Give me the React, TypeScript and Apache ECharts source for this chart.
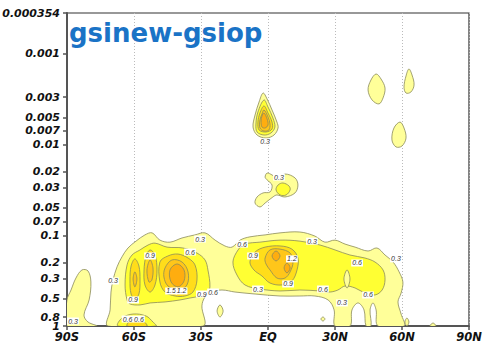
import React, { useEffect, useRef } from "react";
import * as echarts from "echarts";

// ---- axes ----
const latTickValues = [-90, -60, -30, 0, 30, 60, 90];
const latTickLabels = ["90S", "60S", "30S", "EQ", "30N", "60N", "90N"];
const pressureTicks = [0.000354, 0.001, 0.003, 0.005, 0.007, 0.01, 0.02, 0.03, 0.05, 0.07, 0.1, 0.2, 0.3, 0.5, 0.8, 1];
const pressureTickLabels = ["0.000354", "0.001", "0.003", "0.005", "0.007", "0.01", "0.02", "0.03", "0.05", "0.07", "0.1", "0.2", "0.3", "0.5", "0.8", "1"];
const pTop = 0.000354;
const pBottom = 1;

// ---- contour levels ----
const contourLevels = [0.3, 0.6, 0.9, 1.2, 1.5];
const levelColors = ["#FFFF99", "#FFFF33", "#FFDD1A", "#FFC61A", "#FFAD0F"];

// ---- contour outlines: [latitude, pressure] ----
const southLobe03: [number, number][] = [
  [-90, 0.516], [-88.2, 0.401], [-86, 0.296], [-83.3, 0.241], [-80.6, 0.247], [-79.3, 0.327],
  [-80.1, 0.516], [-82.4, 0.757], [-80.6, 0.904], [-76.6, 1.0], [-90, 1.0],
];
const band03: [number, number][] = [
  [-71.6, 1.0], [-70.7, 0.665], [-70.3, 0.422], [-69.4, 0.311], [-67.6, 0.223], [-65.4, 0.173],
  [-62.7, 0.138], [-59.1, 0.116], [-55.1, 0.099], [-51.9, 0.094], [-48.4, 0.113], [-43.9, 0.119],
  [-38.5, 0.107], [-32.7, 0.099], [-28.2, 0.094], [-23.7, 0.113], [-19.3, 0.131], [-16.1, 0.135],
  [-12.5, 0.113], [-8.1, 0.104], [-1.3, 0.099], [5.4, 0.094], [14.3, 0.092], [21, 0.102],
  [25.5, 0.119], [30, 0.113], [34.5, 0.125], [39, 0.135], [44.8, 0.149], [48.8, 0.138],
  [52.4, 0.165], [56, 0.197], [58.7, 0.253], [60.4, 0.327], [59.6, 0.433], [58.2, 0.543],
  [59.6, 0.738], [60.9, 1.0], [49.3, 1.0], [48.4, 0.665], [47, 0.557], [45.7, 0.665],
  [46.1, 1.0], [43.9, 1.0], [43, 0.665], [40.3, 0.557], [37.6, 0.665], [36.7, 1.0],
  [30, 1.0], [29.6, 0.665], [26.9, 0.516], [21, 0.467], [14.3, 0.467], [5.4, 0.467],
  [-5.8, 0.444], [-14.8, 0.422], [-20.6, 0.401], [-25.1, 0.422], [-28.2, 0.479], [-29.6, 0.601],
  [-29.1, 1.0],
];
const drop03a: [number, number][] = [[-21.5, 0.586], [-20.1, 0.682], [-21.5, 0.796], [-22.8, 0.682]];
const drop03b: [number, number][] = [[24.6, 0.796], [25.5, 0.838], [24.6, 0.881], [23.7, 0.838]];
const drop03c: [number, number][] = [[62.2, 0.817], [63.1, 0.904], [62.2, 1.0], [61.3, 0.904]];
const drop03d: [number, number][] = [[72.5, 1.0], [73.9, 0.927], [75.2, 1.0]];
const upper03: [number, number][] = [
  [-2.2, 0.0027], [-0.4, 0.00314], [1.8, 0.00415], [4, 0.00564], [4.5, 0.00656], [2.7, 0.00784],
  [-0.9, 0.00846], [-4.9, 0.00784], [-6.7, 0.0064], [-5.8, 0.00472], [-4, 0.00339],
];
const middle03: [number, number][] = [
  [-1.3, 0.0228], [-0.4, 0.0206], [1.8, 0.0216], [4, 0.0233], [7.6, 0.0211], [12.1, 0.0233],
  [13.4, 0.0279], [12.1, 0.0341], [7.6, 0.0378], [4, 0.0359], [2.2, 0.0378], [-1.3, 0.0441],
  [-3.6, 0.0487], [-5.8, 0.0441], [-4.9, 0.0378], [-2.2, 0.0341], [0.9, 0.0333], [1.8, 0.0279],
  [-0.4, 0.0245],
];
const nhBlobA03: [number, number][] = [
  [48.4, 0.001665], [50.6, 0.00189], [52.4, 0.00238], [51.5, 0.00306], [49.7, 0.00356],
  [46.6, 0.00322], [44.8, 0.0025], [46.1, 0.00194],
];
const nhBlobB03: [number, number][] = [
  [63.1, 0.001466], [64.5, 0.00171], [65.4, 0.0022], [64, 0.00263], [61.8, 0.0027],
  [60.9, 0.00232], [61.8, 0.00175],
];
const nhBlobC03: [number, number][] = [
  [59.1, 0.00564], [60.9, 0.00656], [61.8, 0.00846], [60, 0.01036], [57.3, 0.0106],
  [55.5, 0.00889], [56.4, 0.00656],
];
const south06: [number, number][] = [
  [-63.1, 0.516], [-64, 0.353], [-63.1, 0.212], [-60.9, 0.165], [-57.3, 0.145], [-53.7, 0.128],
  [-50.6, 0.122], [-45.2, 0.135], [-38.1, 0.138], [-31.8, 0.157], [-28.2, 0.187], [-26.9, 0.241],
  [-26, 0.371], [-27.3, 0.433], [-30.4, 0.467], [-34.9, 0.491], [-39.4, 0.516], [-46.1, 0.543],
  [-52.8, 0.557], [-57.3, 0.586], [-61.8, 0.571],
];
const southBottom06: [number, number][] = [
  [-67.2, 1.0], [-65.4, 0.817], [-60.4, 0.738], [-54.6, 0.776], [-51.5, 0.904], [-50.1, 1.0],
];
const equator06: [number, number][] = [
  [-15.7, 0.197], [-13.4, 0.145], [-10.3, 0.125], [-3.6, 0.119], [5.4, 0.113], [14.3, 0.116],
  [23.3, 0.128], [30, 0.145], [36.7, 0.165], [43.4, 0.178], [47.9, 0.197], [51.5, 0.241],
  [52.4, 0.311], [51.1, 0.401], [47.9, 0.455], [43.4, 0.433], [39, 0.381], [34.5, 0.362],
  [31.3, 0.401], [27.8, 0.422], [23.3, 0.411], [14.3, 0.401], [5.4, 0.411], [-3.6, 0.391],
  [-10.3, 0.353], [-13.9, 0.274],
];
const equatorHole03: [number, number][] = [[35.4, 0.241], [36.7, 0.303], [35.4, 0.381], [34, 0.303]];
const upper06: [number, number][] = [
  [-1.8, 0.00322], [0, 0.00385], [2.2, 0.00509], [3.1, 0.0064], [1.3, 0.00745], [-1.8, 0.00784],
  [-4.9, 0.00726], [-5.4, 0.00593], [-4.5, 0.00437],
];
const middle06: [number, number][] = [
  [6.7, 0.0265], [9.4, 0.0286], [9.9, 0.0316], [8.1, 0.0359], [5.4, 0.0359], [3.6, 0.0316], [4.5, 0.0279],
];
const lobe1_09: [number, number][] = [
  [-59.6, 0.182], [-57.8, 0.218], [-57.3, 0.311], [-57.8, 0.444], [-59.6, 0.503], [-61.3, 0.444],
  [-61.8, 0.311], [-61.3, 0.218],
];
const lobe2_09: [number, number][] = [
  [-52.8, 0.145], [-50.6, 0.165], [-49.7, 0.241], [-50.6, 0.353], [-52.8, 0.422], [-55.1, 0.353],
  [-55.5, 0.241], [-54.6, 0.169],
];
const lobe3_09: [number, number][] = [
  [-48.4, 0.197], [-44.8, 0.169], [-40.3, 0.161], [-35.8, 0.178], [-32.7, 0.212], [-31.8, 0.311],
  [-33.6, 0.422], [-37.2, 0.467], [-41.6, 0.467], [-46.1, 0.422], [-48.4, 0.327],
];
const southBottom09: [number, number][] = [[-63.1, 1.0], [-61.3, 0.859], [-57.3, 0.838], [-54.2, 1.0]];
const equator09: [number, number][] = [
  [-8.1, 0.197], [-5.8, 0.153], [-1.3, 0.135], [5.4, 0.131], [10.7, 0.142], [13.4, 0.178],
  [13, 0.241], [10.7, 0.319], [6.3, 0.353], [0.9, 0.336], [-2.7, 0.281], [-6.3, 0.241],
];
const upper09: [number, number][] = [
  [-1.8, 0.00375], [0, 0.00448], [1.8, 0.00564], [1.8, 0.00673], [-0.9, 0.00726], [-4, 0.0069],
  [-4.5, 0.00564], [-3.6, 0.00448],
];
const lobe1_12: [number, number][] = [[-59.6, 0.253], [-58.7, 0.303], [-59.6, 0.371], [-60.4, 0.303]];
const lobe2_12: [number, number][] = [[-52.8, 0.187], [-51.5, 0.229], [-52, 0.311], [-53.3, 0.327], [-54.2, 0.241]];
const lobe3_12: [number, number][] = [
  [-46.1, 0.229], [-43, 0.187], [-38.5, 0.197], [-35.8, 0.253], [-36.3, 0.353], [-40.3, 0.401],
  [-44.8, 0.362], [-46.6, 0.288],
];
const equator12: [number, number][] = [
  [-1.3, 0.178], [0.9, 0.145], [5.4, 0.142], [9.9, 0.157], [11.2, 0.197], [9.9, 0.253],
  [7.6, 0.296], [4, 0.296], [0.9, 0.241], [-0.9, 0.207],
];
const upper12: [number, number][] = [
  [-1.8, 0.00415], [0, 0.00496], [0.9, 0.00593], [0.4, 0.0069], [-1.8, 0.00708], [-3.6, 0.00656],
  [-3.6, 0.00535], [-2.7, 0.0046],
];
const lobe3_15: [number, number][] = [
  [-43.9, 0.241], [-40.7, 0.207], [-37.6, 0.241], [-37.6, 0.319], [-40.3, 0.371], [-43.4, 0.327],
];
const equatorA15: [number, number][] = [[3.6, 0.149], [5.4, 0.169], [3.6, 0.192], [1.8, 0.169]];
const equatorB15: [number, number][] = [[8.5, 0.202], [9.9, 0.229], [8.5, 0.26], [7.2, 0.229]];
const upper15: [number, number][] = [
  [-1.8, 0.00448], [-0.4, 0.00522], [0, 0.00608], [-1.3, 0.00656], [-2.7, 0.0064], [-3.1, 0.00549],
  [-2.7, 0.00484],
];

// ---- contour line labels: [latitude, pressure, text] ----
const contourLabels: [number, number, string][] = [
  [-87.3, 0.881, "0.3"], [-69.4, 0.319, "0.3"], [-60.4, 0.516, "0.9"], [-62.9, 0.838, "0.6"],
  [-57.8, 0.838, "0.6"], [-52.8, 0.169, "0.9"], [-30.4, 0.11, "0.3"], [-34.9, 0.153, "0.6"],
  [-11.6, 0.125, "0.6"], [-6.7, 0.169, "0.9"], [10.7, 0.182, "1.2"], [9, 0.344, "0.9"],
  [-4.5, 0.391, "0.3"], [-43.4, 0.411, "1.5"], [-38.7, 0.411, "1.2"], [-29.6, 0.444, "0.9"],
  [-24.6, 0.422, "0.6"], [19.7, 0.116, "0.3"], [24.6, 0.391, "0.6"], [39.9, 0.202, "0.6"],
  [57.3, 0.182, "0.3"], [44.8, 0.455, "0.6"], [33.1, 0.557, "0.3"], [-1.3, 0.00935, "0.3"],
  [4.9, 0.0228, "0.3"],
];

type Shape = { level: number; pts: [number, number][] };
const contourShapes: Shape[] = [
  { level: 0.3, pts: band03 },
  { level: 0.3, pts: southLobe03 },
  { level: 0.3, pts: drop03a },
  { level: 0.3, pts: drop03b },
  { level: 0.3, pts: drop03c },
  { level: 0.3, pts: drop03d },
  { level: 0.3, pts: upper03 },
  { level: 0.3, pts: middle03 },
  { level: 0.3, pts: nhBlobA03 },
  { level: 0.3, pts: nhBlobB03 },
  { level: 0.3, pts: nhBlobC03 },
  { level: 0.6, pts: south06 },
  { level: 0.6, pts: southBottom06 },
  { level: 0.6, pts: equator06 },
  { level: 0.3, pts: equatorHole03 },
  { level: 0.6, pts: upper06 },
  { level: 0.6, pts: middle06 },
  { level: 0.9, pts: lobe1_09 },
  { level: 0.9, pts: lobe2_09 },
  { level: 0.9, pts: lobe3_09 },
  { level: 0.9, pts: southBottom09 },
  { level: 0.9, pts: equator09 },
  { level: 0.9, pts: upper09 },
  { level: 1.2, pts: lobe1_12 },
  { level: 1.2, pts: lobe2_12 },
  { level: 1.2, pts: lobe3_12 },
  { level: 1.2, pts: equator12 },
  { level: 1.2, pts: upper12 },
  { level: 1.5, pts: lobe3_15 },
  { level: 1.5, pts: equatorA15 },
  { level: 1.5, pts: equatorB15 },
  { level: 1.5, pts: upper15 },
];

const AXIS_FONT = '"DejaVu Sans", sans-serif';

export default function App() {
  const ref = useRef<HTMLDivElement>(null);

  useEffect(() => {
    if (!ref.current) return;
    const chart = echarts.init(ref.current, undefined, { renderer: "svg" });
    const logTicks = pressureTicks.map((p) => Math.log10(p));
    const lastIdx = logTicks.length - 1;
    const mainLabelTicks = logTicks.slice(0, lastIdx);
    const bottomLabelTicks = [logTicks[lastIdx]];

    const nearestLabel = (v: number) => {
      let best = 0;
      let bd = Infinity;
      logTicks.forEach((t, i) => {
        const d = Math.abs(t - v);
        if (d < bd) { bd = d; best = i; }
      });
      return pressureTickLabels[best];
    };

    const yLabelStyle = {
      margin: 7,
      fontSize: 11,
      fontWeight: "bold",
      fontStyle: "italic",
      fontFamily: AXIS_FONT,
      color: "#111",
      hideOverlap: false,
      formatter: nearestLabel,
    };

    const option: any = {
      animation: false,
      backgroundColor: "#ffffff",
      grid: {
        left: 67,
        top: 13,
        width: 402,
        height: 313,
        show: true,
        borderColor: "#333",
        borderWidth: 1.2,
        backgroundColor: "transparent",
        containLabel: false,
        outerBoundsMode: "none",
      },
      xAxis: {
        type: "value",
        min: -90,
        max: 90,
        interval: 30,
        axisLine: { show: true, onZero: false, lineStyle: { color: "#555", width: 2 } },
        axisTick: { show: true, inside: false, length: 4, lineStyle: { color: "#555", width: 1.5 } },
        axisLabel: {
          margin: 5,
          fontSize: 11.5,
          fontWeight: "bold",
          fontStyle: "italic",
          fontFamily: AXIS_FONT,
          color: "#111",
          showMinLabel: true,
          showMaxLabel: true,
          formatter: (v: number) => {
            const i = latTickValues.indexOf(Math.round(v));
            return i >= 0 ? latTickLabels[i] : "";
          },
        },
        splitLine: { show: true, lineStyle: { color: "#bbb", type: [1, 2], width: 1 } },
      },
      yAxis: [
        {
          type: "value",
          min: Math.log10(pTop),
          max: Math.log10(pBottom),
          inverse: true,
          position: "left",
          axisLine: { show: true, onZero: false, lineStyle: { color: "#555", width: 2 } },
          axisTick: {
            show: true,
            inside: false,
            length: 4,
            customValues: logTicks,
            lineStyle: { color: "#555", width: 1.5 },
          },
          axisLabel: { ...yLabelStyle, showMinLabel: true, customValues: mainLabelTicks },
          splitLine: { show: false },
        },
        {
          type: "value",
          min: Math.log10(pTop),
          max: Math.log10(pBottom),
          inverse: true,
          position: "left",
          offset: 0,
          axisLine: { show: false },
          axisTick: { show: false },
          axisLabel: { ...yLabelStyle, showMaxLabel: true, customValues: bottomLabelTicks },
          splitLine: { show: false },
        },
      ],
      graphic: [
        {
          type: "text",
          left: 69,
          top: 20,
          z: 100,
          style: {
            text: "gsinew-gsiop",
            fill: "#1a73c6",
            font: 'bold 26px "DejaVu Sans", sans-serif',
          },
        },
      ],
      series: [
        {
          type: "custom",
          coordinateSystem: "cartesian2d",
          xAxisIndex: 0,
          yAxisIndex: 0,
          clip: true,
          silent: true,
          data: contourShapes.map((s) => [s.pts[0][0], Math.log10(s.pts[0][1])]),
          renderItem: (params: any, api: any) => {
            const s = contourShapes[params.dataIndex];
            const points = s.pts.map(([lat, p]) => api.coord([lat, Math.log10(p)]));
            const li = contourLevels.indexOf(s.level);
            return {
              type: "polygon",
              shape: { points, smooth: 0.35 },
              style: { fill: levelColors[li], stroke: "#8a8a5a", lineWidth: 0.8 },
            };
          },
          z: 2,
        },
        {
          type: "custom",
          coordinateSystem: "cartesian2d",
          xAxisIndex: 0,
          yAxisIndex: 0,
          clip: true,
          silent: true,
          data: contourLabels.map((l) => [l[0], Math.log10(l[1])]),
          renderItem: (params: any, api: any) => {
            const pt = api.coord([api.value(0), api.value(1)]);
            return {
              type: "text",
              x: pt[0],
              y: pt[1],
              style: {
                text: contourLabels[params.dataIndex][2],
                fill: "#333",
                font: 'italic 7px "Liberation Sans", Arial, sans-serif',
                align: "center",
                verticalAlign: "middle",
                backgroundColor: "#ffffff",
                padding: [0, 1],
              },
            };
          },
          z: 3,
        },
      ],
    };

    chart.setOption(option);
    return () => chart.dispose();
  }, []);

  return (
    <div
      ref={ref}
      style={{ position: "fixed", left: 0, top: 0, width: 483, height: 344, background: "#fff" }}
    />
  );
}
